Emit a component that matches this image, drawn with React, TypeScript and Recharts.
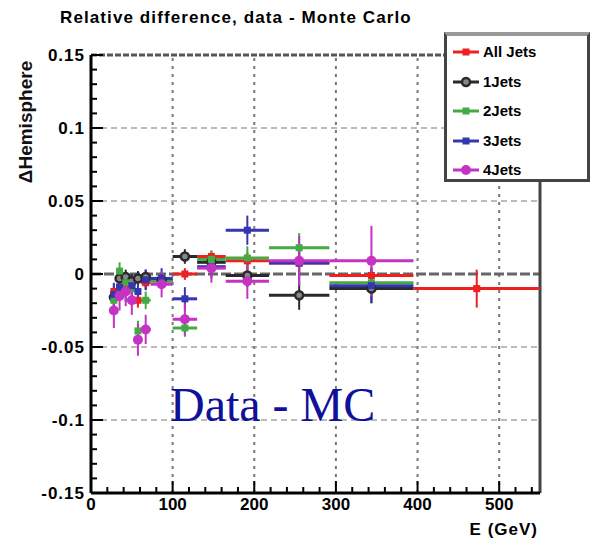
import React from 'react';
import {
  ComposedChart, Scatter, XAxis, YAxis, ErrorBar, ReferenceLine
} from 'recharts';

// Bin centres and half-widths in E (GeV)
const ENERGY = [28, 35, 42.5, 50, 57.5, 67, 86.5, 115, 147.5, 191.5, 255, 343.5, 472.5];
const ENERGY_ERR = [3, 4, 3.5, 4, 3.5, 6, 13.5, 15, 17.5, 26.5, 37, 51.5, 77.5];

// Relative difference per jet multiplicity
const ALL_JETS = [-0.012, -0.009, -0.008, -0.010, -0.018, -0.006, -0.004, 0.000, 0.012, 0.009, 0.0075, -0.001, -0.010];
const ALL_JETS_ERR = [0.005, 0.004, 0.004, 0.004, 0.005, 0.005, 0.004, 0.004, 0.004, 0.006, 0.008, 0.006, 0.013];
const JETS_1 = [-0.016, -0.003, -0.002, -0.005, -0.003, -0.002, -0.004, 0.012, 0.008, -0.001, -0.0145, -0.010];
const JETS_1_ERR = [0.006, 0.005, 0.005, 0.005, 0.005, 0.005, 0.004, 0.005, 0.006, 0.008, 0.010, 0.010];
const JETS_2 = [-0.018, 0.002, -0.006, -0.010, -0.039, -0.018, -0.005, -0.037, 0.010, 0.011, 0.018, -0.006];
const JETS_2_ERR = [0.007, 0.006, 0.006, 0.006, 0.007, 0.006, 0.005, 0.006, 0.006, 0.008, 0.010, 0.010];
const JETS_3 = [-0.014, -0.009, -0.012, -0.008, -0.012, -0.004, -0.003, -0.017, 0.005, 0.030, 0.0075, -0.008];
const JETS_3_ERR = [0.008, 0.007, 0.007, 0.007, 0.007, 0.007, 0.007, 0.008, 0.008, 0.010, 0.012, 0.012];
const JETS_4 = [-0.025, -0.015, -0.012, -0.018, -0.045, -0.038, -0.007, -0.031, 0.004, -0.005, 0.009, 0.009];
const JETS_4_ERR = [0.012, 0.010, 0.010, 0.010, 0.011, 0.010, 0.009, 0.011, 0.010, 0.012, 0.017, 0.024];

// Axis ticks
const X_MAJOR = [0, 100, 200, 300, 400, 500];
const X_MINOR_STEP = 20;
const Y_MAJOR = [-0.15, -0.1, -0.05, 0, 0.05, 0.1, 0.15];
const Y_LABELS = ['-0.15', '-0.1', '-0.05', '0', '0.05', '0.1', '0.15'];
const Y_MINOR_STEP = 0.01;

const X_TICKS = Array.from({ length: 28 }, (_, i) => i * X_MINOR_STEP);
const Y_TICKS = Array.from({ length: 31 }, (_, i) => Math.round((-0.15 + i * Y_MINOR_STEP) * 1000) / 1000);

const COLORS = {
  all: '#ee2020',
  j1: '#2a2a2a',
  j2: '#44aa44',
  j3: '#3636b0',
  j4: '#c433c4',
};

const toRows = (vals: number[], errs: number[]) =>
  vals.map((v, i) => ({ x: ENERGY[i], y: v, ex: ENERGY_ERR[i], ey: errs[i] }));

const SERIES = [
  { key: 'all', name: 'All Jets', color: COLORS.all, marker: 'square', data: toRows(ALL_JETS, ALL_JETS_ERR) },
  { key: 'j1', name: '1Jets', color: COLORS.j1, marker: 'open', data: toRows(JETS_1, JETS_1_ERR) },
  { key: 'j2', name: '2Jets', color: COLORS.j2, marker: 'square', data: toRows(JETS_2, JETS_2_ERR) },
  { key: 'j3', name: '3Jets', color: COLORS.j3, marker: 'square', data: toRows(JETS_3, JETS_3_ERR) },
  { key: 'j4', name: '4Jets', color: COLORS.j4, marker: 'circle', data: toRows(JETS_4, JETS_4_ERR) },
];

const FONT = '"Liberation Sans", Arial, sans-serif';

const makeMarker = (marker: string, color: string) => (props: any) => {
  const { cx, cy } = props;
  if (cx == null || cy == null) return <g />;
  if (marker === 'open') {
    return <circle cx={cx} cy={cy} r={4} fill="#888" stroke={color} strokeWidth={2.5} />;
  }
  if (marker === 'circle') {
    return <circle cx={cx} cy={cy} r={5} fill={color} />;
  }
  return <rect x={cx - 3.5} y={cy - 3.5} width={7} height={7} fill={color} />;
};

const XTick = (props: any) => {
  const { x, y, payload } = props;
  const major = payload.value % 100 === 0;
  return (
    <g>
      <line x1={x} x2={x} y1={y} y2={y - (major ? 12 : 6)} stroke="#000" strokeWidth={2} />
      {major && (
        <text x={x} y={y + 17} textAnchor="middle" fontFamily={FONT} fontSize={17} fontWeight="bold" fill="#000">
          {payload.value}
        </text>
      )}
    </g>
  );
};

const YTick = (props: any) => {
  const { x, y, payload } = props;
  const idx = Y_MAJOR.findIndex(v => Math.abs(v - payload.value) < 1e-6);
  const major = idx >= 0;
  return (
    <g>
      <line x1={x} x2={x + (major ? 12 : 6)} y1={y} y2={y} stroke="#000" strokeWidth={2} />
      {major && (
        <text x={x - 6} y={y + 6} textAnchor="end" fontFamily={FONT} fontSize={17} fontWeight="bold" fill="#000" letterSpacing={1}>
          {Y_LABELS[idx]}
        </text>
      )}
    </g>
  );
};

const LegendBox = () => (
  <div
    style={{
      position: 'absolute', left: 444, top: 32, width: 140, height: 143,
      border: '3px solid #444', borderTop: '4px solid #999', background: '#fff',
      fontFamily: FONT, fontSize: 15, fontWeight: 'bold',
    }}
  >
    {SERIES.map((s, i) => (
      <div key={s.key} style={{ position: 'absolute', left: 0, top: 6 + i * 29.5, height: 20, width: 130 }}>
        <svg width={34} height={20} style={{ position: 'absolute', left: 4, top: 0 }}>
          <line x1={2} x2={28} y1={10} y2={10} stroke={s.color} strokeWidth={3} />
          {s.marker === 'open' && <circle cx={15} cy={10} r={4} fill="#888" stroke={s.color} strokeWidth={2.5} />}
          {s.marker === 'circle' && <circle cx={15} cy={10} r={5} fill={s.color} />}
          {s.marker === 'square' && <rect x={11.5} y={6.5} width={7} height={7} fill={s.color} />}
        </svg>
        <span style={{ position: 'absolute', left: 36, top: 0, lineHeight: '20px', color: '#000' }}>{s.name}</span>
      </div>
    ))}
  </div>
);

export default function App() {
  return (
    <div style={{ position: 'absolute', left: 0, top: 0, width: 593, height: 543, background: '#fff' }}>
      <div style={{ position: 'absolute', left: 60, top: 8, fontFamily: FONT, fontSize: 17, fontWeight: 'bold', whiteSpace: 'nowrap', letterSpacing: 1.1 }}>
        Relative difference, data - Monte Carlo
      </div>
      <ComposedChart width={593} height={543} margin={{ top: 55, right: 53, bottom: 20, left: 31 }}>
        <XAxis
          type="number" dataKey="x" domain={[0, 550]} ticks={X_TICKS} interval={0}
          allowDataOverflow tickSize={0} tickMargin={0} tick={<XTick />}
          axisLine={{ stroke: '#000', strokeWidth: 3 }} tickLine={false} height={30}
        />
        <YAxis
          type="number" dataKey="y" domain={[-0.15, 0.15]} ticks={Y_TICKS} interval={0}
          allowDataOverflow tickSize={0} tickMargin={0} tick={<YTick />}
          axisLine={{ stroke: '#000', strokeWidth: 3 }} tickLine={false} width={60}
        />
        {[0.1, 0.05, -0.05, -0.1].map(v => (
          <ReferenceLine key={`h${v}`} y={v} stroke="#bbb" strokeWidth={2} strokeDasharray="6 4" />
        ))}
        {X_MAJOR.slice(1).map(v => (
          <ReferenceLine key={`v${v}`} x={v} stroke="#777" strokeWidth={2} strokeDasharray="3 5" />
        ))}
        <ReferenceLine y={0} stroke="#666" strokeWidth={3} strokeDasharray="10 3" />
        <ReferenceLine y={0.15} stroke="#555" strokeWidth={3} strokeDasharray="6 2" />
        <ReferenceLine x={550} stroke="#444" strokeWidth={3} />
        {SERIES.map(s => (
          <Scatter
            key={s.key} name={s.name} data={s.data} dataKey="y"
            shape={makeMarker(s.marker, s.color)} isAnimationActive={false}
          >
            <ErrorBar dataKey="ex" direction="x" width={0} stroke={s.color} strokeWidth={3} isAnimationActive={false} />
            <ErrorBar dataKey="ey" direction="y" width={0} stroke={s.color} strokeWidth={2} isAnimationActive={false} />
          </Scatter>
        ))}
      </ComposedChart>
      <div
        style={{
          position: 'absolute', left: 26, top: 122, transform: 'translate(-50%, -50%) rotate(-90deg)',
          fontFamily: FONT, fontSize: 19, fontWeight: 'bold', whiteSpace: 'nowrap', color: '#111',
        }}
      >
        ΔHemisphere
      </div>
      <div style={{ position: 'absolute', left: 170, top: 377, fontFamily: '"Liberation Serif", serif', fontSize: 48, color: '#10109a', whiteSpace: 'nowrap' }}>
        Data - MC
      </div>
      <div style={{ position: 'absolute', right: 55, top: 520, fontFamily: FONT, fontSize: 17, fontWeight: 'bold', whiteSpace: 'nowrap', letterSpacing: 1 }}>
        E (GeV)
      </div>
      <LegendBox />
    </div>
  );
}
